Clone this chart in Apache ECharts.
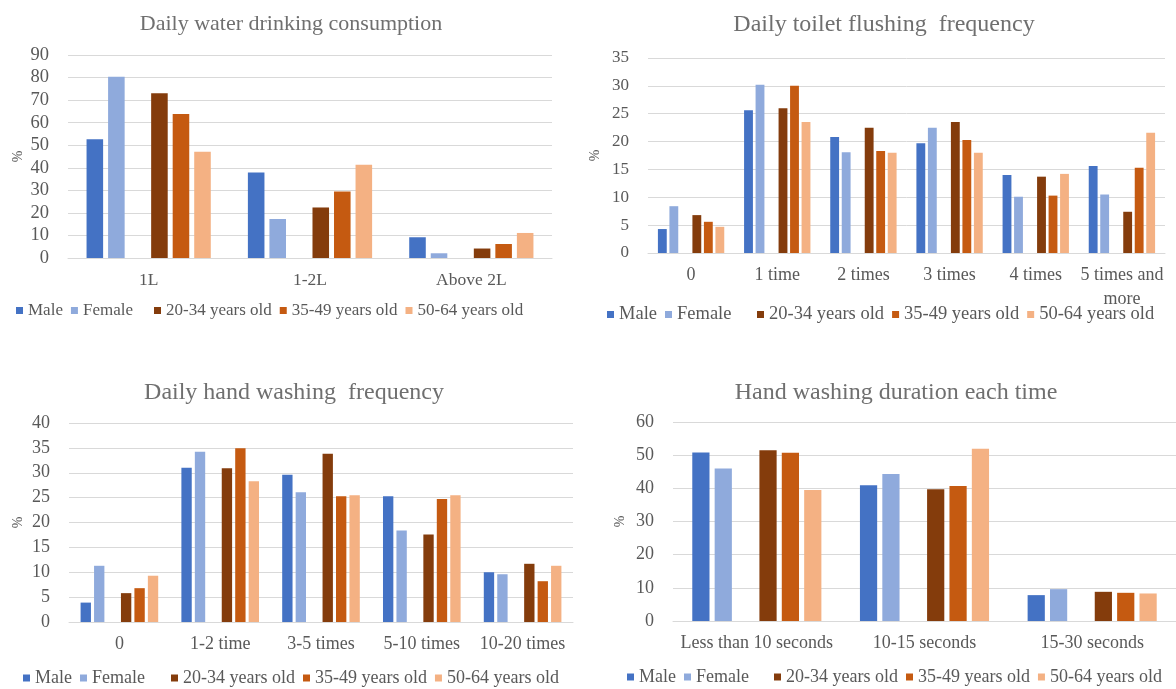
<!DOCTYPE html>
<html>
<head>
<meta charset="utf-8">
<script src="https://cdn.jsdelivr.net/npm/echarts@6/dist/echarts.min.js"></script>
<style>
  html, body { margin: 0; padding: 0; background: #fff; }
  #chart { width: 1176px; height: 689px; }
</style>
</head>
<body>
<div id="chart"></div>
<script>
// series names
var groups = ['Male', 'Female', '20-34 years old', '35-49 years old', '50-64 years old'];
var colors = ['#4472C4', '#8FAADC', '#843C0C', '#C55A11', '#F4B183'];

// Daily water drinking consumption
var waterCats = ['1L', '1-2L', 'Above 2L'];
var waterMale = [52.6, 37.9, 9.2];
var waterFemale = [80.4, 17.3, 2.1];
var water2034 = [73.0, 22.4, 4.2];
var water3549 = [63.8, 29.5, 6.2];
var water5064 = [47.1, 41.3, 11.1];

// Daily toilet flushing frequency
var toiletCats = ['0', '1 time', '2 times', '3 times', '4 times', '5 times and\nmore'];
var toiletMale = [4.3, 25.6, 20.8, 19.7, 14.0, 15.6];
var toiletFemale = [8.4, 30.2, 18.1, 22.5, 10.1, 10.5];
var toilet2034 = [6.8, 26.0, 22.5, 23.5, 13.7, 7.4];
var toilet3549 = [5.6, 30.0, 18.3, 20.3, 10.3, 15.3];
var toilet5064 = [4.7, 23.5, 18.0, 18.0, 14.2, 21.6];

// Daily hand washing frequency
var washCats = ['0', '1-2 time', '3-5 times', '5-10 times', '10-20 times'];
var washMale = [3.9, 31.0, 29.6, 25.3, 10.0];
var washFemale = [11.3, 34.2, 26.1, 18.4, 9.6];
var wash2034 = [5.8, 30.9, 33.8, 17.6, 11.7];
var wash3549 = [6.8, 34.9, 25.3, 24.7, 8.2];
var wash5064 = [9.3, 28.3, 25.5, 25.5, 11.3];

// Hand washing duration each time
var durCats = ['Less than 10 seconds', '10-15 seconds', '15-30 seconds'];
var durMale = [50.8, 40.9, 7.8];
var durFemale = [46.0, 44.3, 9.6];
var dur2034 = [51.5, 39.7, 8.8];
var dur3549 = [50.7, 40.7, 8.5];
var dur5064 = [39.5, 51.9, 8.3];

var FONT = 'Liberation Serif';
var TXT = '#595959';

var panels = [
  { title: 'Daily water drinking consumption', tx: 286, ty: 8, tsize: 22,
    grid: { left: 68, top: 55, width: 484, height: 203 }, max: 90, interval: 10,
    ysize: 18.5, xsize: 17.5, nameGap: 43, cats: waterCats,
    data: [waterMale, waterFemale, water2034, water3549, water5064],
    legA: 16, legB: 154, legTop: 302, lsize: 17 },
  { title: 'Daily toilet flushing  frequency', tx: 879, ty: 8, tsize: 24,
    grid: { left: 648, top: 58, width: 517, height: 195 }, max: 35, interval: 5,
    ysize: 17, xsize: 18, nameGap: 46, cats: toiletCats,
    data: [toiletMale, toiletFemale, toilet2034, toilet3549, toilet5064],
    legA: 607, legB: 757, legTop: 305, lsize: 18.5 },
  { title: 'Daily hand washing  frequency', tx: 289, ty: 376, tsize: 24,
    grid: { left: 69, top: 423, width: 504, height: 199 }, max: 40, interval: 5,
    ysize: 18, xsize: 18, nameGap: 44, cats: washCats,
    data: [washMale, washFemale, wash2034, wash3549, wash5064],
    legA: 23, legB: 171, legTop: 669, lsize: 18 },
  { title: 'Hand washing duration each time', tx: 891, ty: 376, tsize: 24,
    grid: { left: 673, top: 422, width: 503, height: 199 }, max: 60, interval: 10,
    ysize: 18, xsize: 18, nameGap: 46, cats: durCats,
    data: [durMale, durFemale, dur2034, dur3549, dur5064],
    legA: 627, legB: 774, legTop: 668, lsize: 18 }
];

var option = {
  animation: false,
  backgroundColor: '#fff',
  textStyle: { fontFamily: FONT },
  title: [], grid: [], xAxis: [], yAxis: [], legend: [], series: []
};

panels.forEach(function (p, i) {
  option.title.push({
    text: p.title, left: p.tx, top: p.ty, textAlign: 'center',
    textStyle: { fontFamily: FONT, fontSize: p.tsize, fontWeight: 'normal', color: '#6f6f6f' }
  });
  option.grid.push(p.grid);
  option.xAxis.push({
    type: 'category', gridIndex: i, data: p.cats,
    axisTick: { show: false },
    axisLine: { lineStyle: { color: '#d9d9d9' } },
    axisLabel: { color: TXT, fontFamily: FONT, fontSize: p.xsize, margin: 10, lineHeight: 24, interval: 0 }
  });
  option.yAxis.push({
    type: 'value', gridIndex: i, min: 0, max: p.max, interval: p.interval,
    name: '%', nameLocation: 'middle', nameRotate: 90, nameGap: p.nameGap,
    nameTextStyle: { color: TXT, fontFamily: FONT, fontSize: 14 },
    axisLine: { show: false }, axisTick: { show: false },
    splitLine: { lineStyle: { color: '#d9d9d9', width: 1 } },
    axisLabel: { color: TXT, fontFamily: FONT, fontSize: p.ysize, margin: 19 }
  });
  var lstyle = { color: TXT, fontFamily: FONT, fontSize: p.lsize };
  option.legend.push({
    data: groups.slice(0, 2), left: p.legA, top: p.legTop, itemWidth: 7, itemHeight: 7,
    itemGap: 8, icon: 'rect', textStyle: lstyle, padding: 0
  });
  option.legend.push({
    data: groups.slice(2), left: p.legB, top: p.legTop, itemWidth: 7, itemHeight: 7,
    itemGap: 8, icon: 'rect', textStyle: lstyle, padding: 0
  });
  var order = [0, 1, -1, 2, 3, 4];
  order.forEach(function (k) {
    if (k < 0) {
      // empty slot between gender and age bars
      option.series.push({ type: 'bar', name: 'blank', xAxisIndex: i, yAxisIndex: i, data: [],
        barGap: '30%', barCategoryGap: '23%' });
      return;
    }
    option.series.push({
      type: 'bar', name: groups[k], xAxisIndex: i, yAxisIndex: i,
      data: p.data[k], barGap: '30%', barCategoryGap: '23%',
      itemStyle: { color: colors[k] }
    });
  });
});

var chart = echarts.init(document.getElementById('chart'));
chart.setOption(option);
</script>
</body>
</html>
